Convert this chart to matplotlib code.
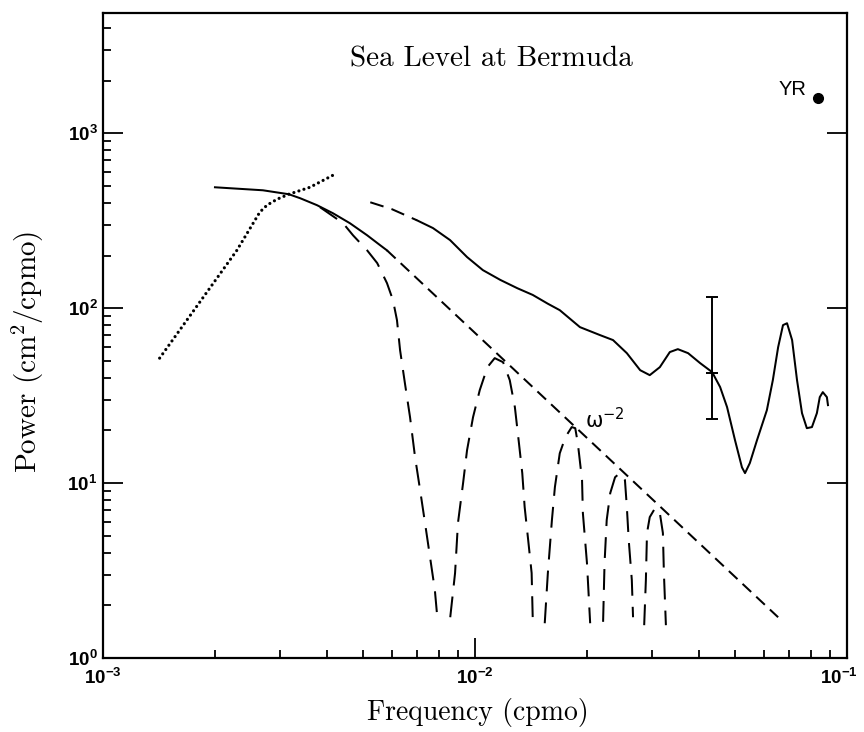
import numpy as np
import matplotlib
matplotlib.use("Agg")
import matplotlib.pyplot as plt
from matplotlib.ticker import LogLocator, FixedLocator, FixedFormatter, NullFormatter

plt.rcParams["mathtext.fontset"] = "custom"
plt.rcParams["mathtext.rm"] = "cmr10"
plt.rcParams["mathtext.sf"] = "Liberation Sans:bold"
plt.rcParams["mathtext.fallback"] = "cm"
plt.rcParams["lines.scale_dashes"] = False
plt.rcParams["axes.unicode_minus"] = False

# low-frequency model spectrum (solid) and its omega^-2 tail (dashed)
model_f = [2.0e-3, 2.69e-3, 3.16e-3, 3.39e-3, 3.76e-3, 4.15e-3, 4.61e-3, 5.13e-3, 5.56e-3, 5.8e-3]
model_p = [491, 472, 448, 425, 388, 349, 306, 261, 229, 214]
tail_f = [5.8e-3, 6.53e-2]
tail_p = [214, 1.71]

# dotted curve
dot_f = [1.42e-3, 2.29e-3, 2.64e-3, 2.76e-3, 2.94e-3, 3.16e-3, 3.6e-3, 4.2e-3]
dot_p = [51.8, 214, 354, 388, 420, 448, 491, 583]

# observed spectrum: dashed start, then solid
obs_dash_f = [5.23e-3, 5.98e-3, 6.98e-3]
obs_dash_p = [403, 368, 318]
obs_f = [6.98e-3, 7.71e-3, 8.57e-3, 9.52e-3, 1.05e-2, 1.17e-2, 1.30e-2, 1.43e-2,
         1.57e-2, 1.69e-2, 1.915e-2, 2.17e-2, 2.35e-2, 2.56e-2, 2.78e-2, 2.95e-2,
         3.14e-2, 3.34e-2, 3.51e-2, 3.74e-2, 4.03e-2, 4.34e-2, 4.56e-2, 4.76e-2,
         5.0e-2, 5.22e-2, 5.32e-2, 5.48e-2, 5.73e-2, 6.09e-2, 6.32e-2, 6.53e-2,
         6.73e-2, 6.90e-2, 7.12e-2, 7.34e-2, 7.57e-2, 7.80e-2, 8.05e-2, 8.3e-2,
         8.45e-2, 8.61e-2, 8.83e-2, 8.89e-2]
obs_p = [318, 287, 245, 196, 165, 145, 130, 119,
         106, 97.4, 77.9, 70.1, 65.7, 55.3, 44.2, 41.4,
         46, 56.1, 58.3, 55.3, 48.5, 43.1, 35.4, 27.2,
         17.6, 12.3, 11.4, 13, 17.6, 26.1, 38.8, 59.8,
         80, 82, 65.7, 38.8, 25.1, 20.6, 20.9, 25.1,
         31, 33.1, 31, 27.9]

# dashed lobes
lobe1_f = [3.83e-3, 4.42e-3, 4.70e-3, 5.13e-3, 5.46e-3, 5.80e-3, 6.02e-3, 6.17e-3, 6.29e-3,
           6.48e-3, 6.69e-3, 6.90e-3, 7.12e-3, 7.34e-3, 7.57e-3, 7.80e-3, 7.90e-3]
lobe1_p = [378, 306, 261, 214, 181, 139, 111, 85.4, 57.5,
           37.3, 23.8, 14.1, 9.12, 5.91, 3.78, 2.45, 1.81]
lobe2_f = [8.58e-3, 8.84e-3, 9.0e-3, 9.29e-3, 9.52e-3, 9.88e-3, 1.03e-2, 1.08e-2, 1.13e-2,
           1.19e-2, 1.24e-2, 1.28e-2, 1.31e-2, 1.34e-2, 1.36e-2, 1.39e-2, 1.42e-2, 1.43e-2]
lobe2_p = [1.71, 3.06, 5.91, 10, 15.4, 23.8, 34, 46, 51.8,
           49.1, 38.8, 27.2, 17.6, 11.4, 7.29, 4.72, 3.06, 1.65]
lobe3_f = [1.54e-2, 1.57e-2, 1.61e-2, 1.64e-2, 1.69e-2, 1.75e-2, 1.82e-2, 1.86e-2, 1.89e-2,
           1.94e-2, 1.95e-2, 2.0e-2, 2.04e-2]
lobe3_p = [1.58, 3.06, 6.15, 9.49, 14.8, 18.3, 20.9, 20.6, 16.9,
           10.4, 6.74, 3.49, 1.58]
lobe4_f = [2.21e-2, 2.23e-2, 2.26e-2, 2.31e-2, 2.38e-2, 2.45e-2, 2.53e-2, 2.56e-2, 2.59e-2,
           2.64e-2, 2.66e-2]
lobe4_p = [1.61, 3.49, 6.15, 8.77, 10.8, 11.4, 10.4, 7.29, 4.72, 2.79, 1.71]
lobe5_f = [2.85e-2, 2.88e-2, 2.90e-2, 2.95e-2, 3.05e-2, 3.14e-2, 3.20e-2, 3.22e-2, 3.26e-2]
lobe5_p = [1.54, 2.79, 5.18, 6.39, 7.2, 6.74, 5.18, 3.06, 1.54]

# error bar and annual peak
err_f, err_p, err_lo, err_hi = 0.0434, 42.5, 23.2, 115.6
yr_f, yr_p = 1 / 12, 1600

xt = [1e-3, 1e-2, 1e-1]
xt_labels = [r"$\mathsf{10^{-3}}$", r"$\mathsf{10^{-2}}$", r"$\mathsf{10^{-1}}$"]
yt = [1, 10, 100, 1000]
yt_labels = [r"$\mathsf{10^{0}}$", r"$\mathsf{10^{1}}$", r"$\mathsf{10^{2}}$", r"$\mathsf{10^{3}}$"]

fig = plt.figure(figsize=(8.64, 7.32), dpi=100)
ax = fig.add_axes([0.1192, 0.1011, 0.8611, 0.8818])
ax.set_xscale("log")
ax.set_yscale("log")
ax.set_xlim(1e-3, 1e-1)
ax.set_ylim(1, 4900)

lw = 1.45
ax.plot(model_f, model_p, color="black", lw=lw)
ax.plot(tail_f, tail_p, color="black", lw=lw, dashes=[8.5, 5])
ax.plot(dot_f, dot_p, color="black", lw=2.3, dashes=[0.01, 3.8], dash_capstyle="round")
ax.plot(obs_dash_f, obs_dash_p, color="black", lw=lw, dashes=[10, 6])
ax.plot(obs_f, obs_p, color="black", lw=lw)
for lf, lp in [(lobe1_f, lobe1_p), (lobe2_f, lobe2_p), (lobe3_f, lobe3_p),
               (lobe4_f, lobe4_p), (lobe5_f, lobe5_p)]:
    ax.plot(lf, lp, color="black", lw=lw, dashes=[15, 8])

ax.errorbar([err_f], [err_p], yerr=[[err_p - err_lo], [err_hi - err_p]],
            fmt="_", color="black", ms=8, mew=1.4, elinewidth=1.4, capsize=4, capthick=1.4)
ax.plot([yr_f], [yr_p], "o", color="black", ms=7)
ax.text(0.0653, 1650, "YR", fontsize=14.5, family="Liberation Sans", ha="left", va="baseline")
ax.text(0.0197, 20.5, r"$\mathregular{\omega^{-2}}$", fontsize=15, family="DejaVu Sans",
        ha="left", va="baseline")

ax.text(0.5215, 0.9156, "Sea Level at Bermuda", transform=ax.transAxes,
        family="cmr10", fontsize=21, ha="center", va="baseline")

ax.set_xlabel("Frequency (cpmo)", family="cmr10", fontsize=20)
ax.set_ylabel("Power (cm$^2$/cpmo)", family="cmr10", fontsize=21)
ax.xaxis.set_label_coords(0.504, -0.062)
ax.yaxis.set_label_coords(-0.077, 0.474)

# last x tick label is placed by hand so it stays inside the figure edge
ax.xaxis.set_major_locator(FixedLocator(xt))
ax.xaxis.set_major_formatter(FixedFormatter(xt_labels[:-1] + [""]))
ax.annotate(xt_labels[-1], xy=(xt[-1], 0), xycoords=("data", "axes fraction"),
            xytext=(-6, -7), textcoords="offset points", ha="center", va="top", fontsize=13.5)
ax.yaxis.set_major_locator(FixedLocator(yt))
ax.yaxis.set_major_formatter(FixedFormatter(yt_labels))
ax.xaxis.set_minor_locator(LogLocator(base=10, subs=np.arange(2, 10), numticks=20))
ax.yaxis.set_minor_locator(LogLocator(base=10, subs=np.arange(2, 10), numticks=20))
ax.xaxis.set_minor_formatter(NullFormatter())
ax.yaxis.set_minor_formatter(NullFormatter())

ax.tick_params(which="both", direction="in", top=False, width=1.3, labelsize=13.5)
ax.tick_params(which="major", length=14.5, right=True)
ax.tick_params(which="minor", length=5.5, right=False)
ax.tick_params(axis="x", pad=7)
ax.tick_params(axis="y", pad=4)
for s in ax.spines.values():
    s.set_linewidth(1.6)

fig.savefig("out.png", dpi=100)
